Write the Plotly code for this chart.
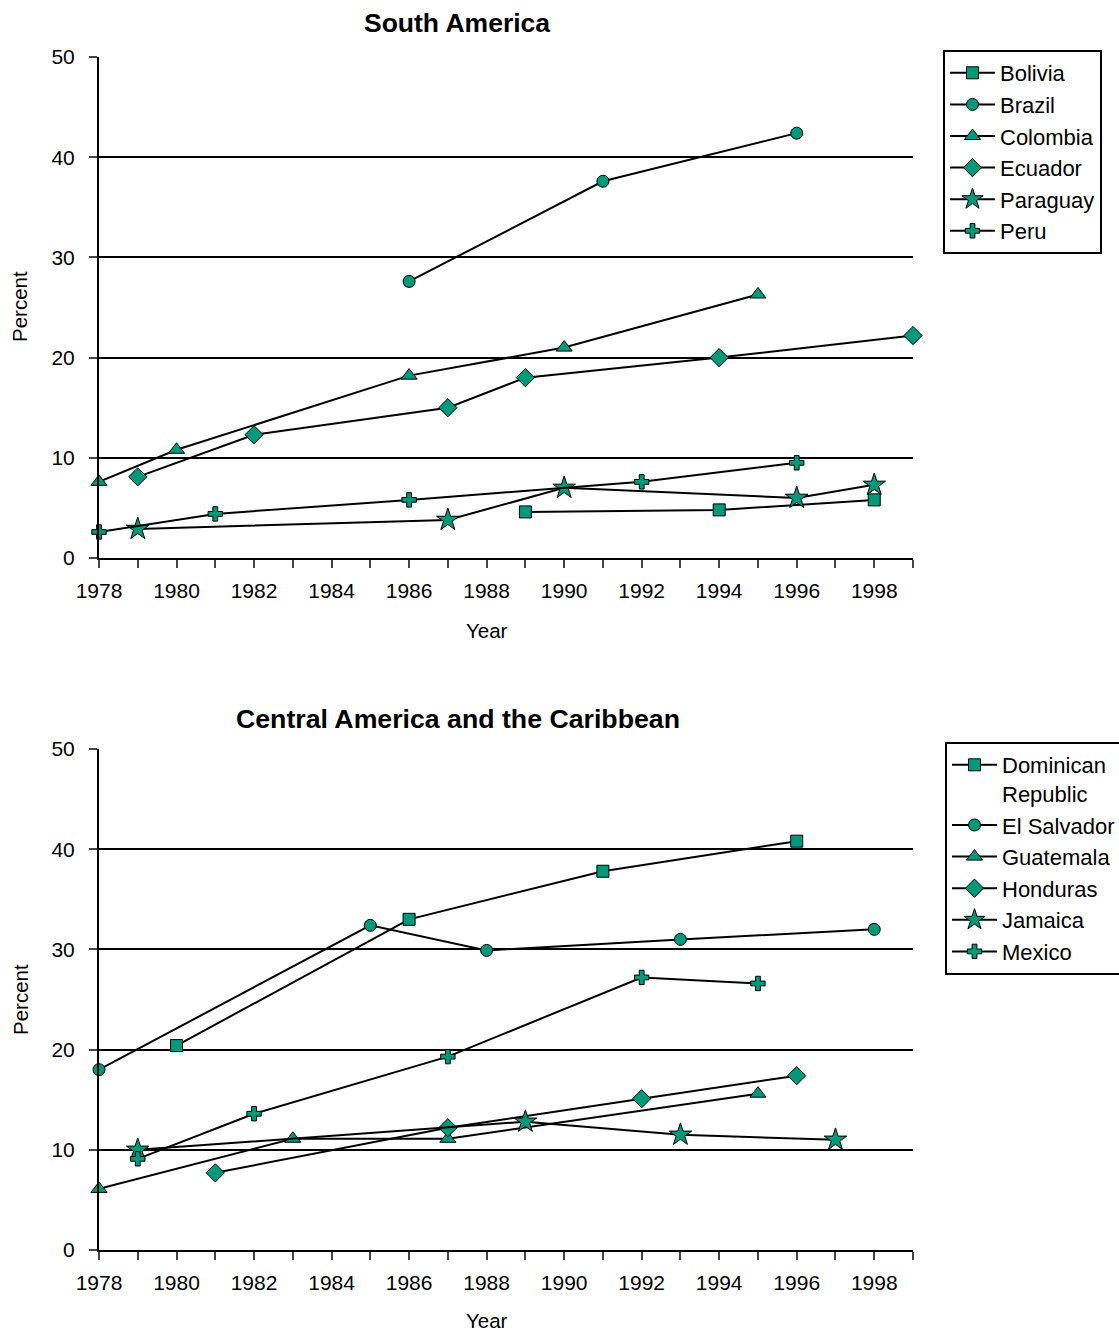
import plotly.graph_objects as go

W, H = 1119, 1331

# ---- data: South America ----
bolivia_years = [1989, 1994, 1998]
bolivia_vals = [4.6, 4.8, 5.8]
brazil_years = [1986, 1991, 1996]
brazil_vals = [27.6, 37.6, 42.4]
colombia_years = [1978, 1980, 1986, 1990, 1995]
colombia_vals = [7.6, 10.8, 18.2, 21.0, 26.3]
ecuador_years = [1979, 1982, 1987, 1989, 1994, 1999]
ecuador_vals = [8.1, 12.3, 15.0, 18.0, 20.0, 22.2]
paraguay_years = [1979, 1987, 1990, 1996, 1998]
paraguay_vals = [2.9, 3.8, 7.0, 6.0, 7.3]
peru_years = [1978, 1981, 1986, 1992, 1996]
peru_vals = [2.6, 4.4, 5.8, 7.6, 9.5]

# ---- data: Central America and the Caribbean ----
dominican_years = [1980, 1986, 1991, 1996]
dominican_vals = [20.4, 33.0, 37.8, 40.8]
salvador_years = [1978, 1985, 1988, 1993, 1998]
salvador_vals = [18.0, 32.4, 29.9, 31.0, 32.0]
guatemala_years = [1978, 1983, 1987, 1995]
guatemala_vals = [6.1, 11.1, 11.1, 15.6]
honduras_years = [1981, 1987, 1992, 1996]
honduras_vals = [7.7, 12.2, 15.1, 17.4]
jamaica_years = [1979, 1989, 1993, 1997]
jamaica_vals = [10.0, 12.8, 11.5, 11.0]
mexico_years = [1979, 1982, 1987, 1992, 1995]
mexico_vals = [9.1, 13.6, 19.3, 27.2, 26.6]

# axis ticks
tick_years = list(range(1978, 2000))
tick_text = [str(y) if y % 2 == 0 else "" for y in tick_years]
y_ticks = [0, 10, 20, 30, 40, 50]

TEAL = "#00997A"
FONT = "Liberation Sans, Arial, sans-serif"

south = [
    ("Bolivia", bolivia_years, bolivia_vals, "square", 12),
    ("Brazil", brazil_years, brazil_vals, "circle", 12),
    ("Colombia", colombia_years, colombia_vals, "triangle-up", 14),
    ("Ecuador", ecuador_years, ecuador_vals, "diamond", 14),
    ("Paraguay", paraguay_years, paraguay_vals, "star", 17),
    ("Peru", peru_years, peru_vals, "cross", 12),
]
central = [
    ("Dominican<br>Republic", dominican_years, dominican_vals, "square", 12),
    ("El Salvador", salvador_years, salvador_vals, "circle", 12),
    ("Guatemala", guatemala_years, guatemala_vals, "triangle-up", 14),
    ("Honduras", honduras_years, honduras_vals, "diamond", 14),
    ("Jamaica", jamaica_years, jamaica_vals, "star", 17),
    ("Mexico", mexico_years, mexico_vals, "cross", 12),
]

fig = go.Figure()


def add_series(items, xa, ya, legend):
    for name, xs, ys, sym, size in items:
        fig.add_trace(go.Scatter(
            x=xs, y=ys, name=name, mode="lines+markers",
            xaxis=xa, yaxis=ya, legend=legend,
            line=dict(color="black", width=2),
            marker=dict(symbol=sym, size=size, color=TEAL,
                        line=dict(color="black", width=1)),
            cliponaxis=False,
        ))


add_series(south, "x", "y", "legend")
add_series(central, "x2", "y2", "legend2")


def px_x(p):
    return p / W


def px_y(p):
    return 1 - p / H


x_dom = [px_x(99), px_x(913)]

xaxis_common = dict(
    range=[1978, 1999], tickmode="array", tickvals=tick_years, ticktext=tick_text,
    ticks="outside", ticklen=8, tickwidth=2, tickcolor="#444",
    showline=True, linecolor="black", linewidth=2, showgrid=False, zeroline=False,
    tickfont=dict(family=FONT, size=21, color="black"), ticklabelstandoff=5,
    automargin=False, fixedrange=True,
)
yaxis_common = dict(
    range=[0, 50], tickmode="array", tickvals=y_ticks,
    ticks="outside", ticklen=8, tickwidth=2, tickcolor="#444",
    showline=True, linecolor="black", linewidth=2,
    showgrid=True, gridcolor="black", gridwidth=2, zeroline=False,
    tickfont=dict(family=FONT, size=21, color="black"), ticklabelstandoff=10,
    automargin=False, fixedrange=True,
)

legend_common = dict(
    bgcolor="white", bordercolor="black", borderwidth=2,
    font=dict(family=FONT, size=22, color="black"),
    xanchor="left", yanchor="top", itemwidth=45, tracegroupgap=0,
    valign="top",
)

fig.update_layout(
    width=W, height=H, margin=dict(l=0, r=0, t=0, b=0, autoexpand=False),
    paper_bgcolor="white", plot_bgcolor="white",
    font=dict(family=FONT, color="black"),
    xaxis=dict(domain=x_dom, anchor="y", **xaxis_common),
    yaxis=dict(domain=[px_y(558), px_y(57)], anchor="x", **yaxis_common),
    xaxis2=dict(domain=x_dom, anchor="y2", **xaxis_common),
    yaxis2=dict(domain=[px_y(1250), px_y(749)], anchor="x2", **yaxis_common),
    legend=dict(x=px_x(943), y=px_y(50), **legend_common),
    legend2=dict(x=px_x(945), y=px_y(742), **legend_common),
    showlegend=True,
)

annotations = [
    ("<b>South America</b>", 457, 23, 0, 26.5),
    ("<b>Central America and the Caribbean</b>", 458, 719, 0, 26.7),
    ("Year", 487, 630, 0, 20.5),
    ("Year", 487, 1320, 0, 20.5),
    ("Percent", 20, 307, -90, 20.5),
    ("Percent", 20, 1000, -90, 20.5),
]
for text, x, y, ang, size in annotations:
    fig.add_annotation(
        text=text, x=px_x(x), y=px_y(y), xref="paper", yref="paper",
        xanchor="center", yanchor="middle", showarrow=False, textangle=ang,
        font=dict(family=FONT, size=size, color="black"),
    )

fig.write_html("out.html")
